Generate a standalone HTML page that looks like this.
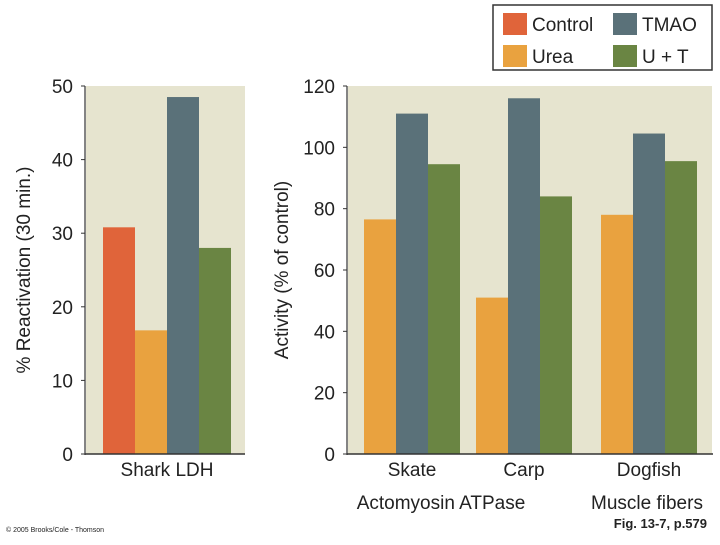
<!DOCTYPE html>
<html><head><meta charset="utf-8"><style>
body{margin:0;background:#fff;}
svg text{font-family:"Liberation Sans",sans-serif;fill:#222;}
</style></head><body>
<svg id="c" width="720" height="540" xmlns="http://www.w3.org/2000/svg"></svg>
<script>
const seriesNames=["Control","Urea","TMAO","U + T"];
const colors=["#e0643a","#e9a23f","#5a7179","#6a8543"];
const leftValues=[30.8,16.8,48.5,28];
const leftTicks=[0,10,20,30,40,50];
const rightCats=["Skate","Carp","Dogfish"];
const rightUrea=[76.5,51,78];
const rightTmao=[111,116,104.5];
const rightUT=[94.5,84,95.5];
const rightTicks=[0,20,40,60,80,100,120];
const NS="http://www.w3.org/2000/svg";
const svg=document.getElementById('c');
function el(t,a,txt){const e=document.createElementNS(NS,t);for(const k in a)e.setAttribute(k,a[k]);if(txt!=null)e.textContent=txt;svg.appendChild(e);return e;}
const y0=454,yTop=86;
function yL(v){return y0-(v/50)*(y0-yTop);}
function yR(v){return y0-(v/120)*(y0-yTop);}
// left panel
let r=el('rect',{x:86,y:yTop,width:159,height:y0-yTop,fill:"#e6e4cf"});


leftValues.forEach((v,i)=>{const b=el('rect',{x:103+i*32,y:yL(v),width:32,height:y0-yL(v),fill:colors[i]});

});
el('line',{x1:85,y1:yTop,x2:85,y2:y0+1,stroke:"#333","stroke-width":1.2});
el('line',{x1:85,y1:y0,x2:245,y2:y0,stroke:"#333","stroke-width":1.5});
leftTicks.forEach(t=>{el('line',{x1:81,y1:yL(t),x2:85,y2:yL(t),stroke:"#333"});
const tx=el('text',{x:73,y:yL(t)+7,"font-size":19,"text-anchor":"end"},t);

});
let lt=el('text',{x:30,y:270,"font-size":19,"text-anchor":"middle",transform:"rotate(-90 30 270)"},"% Reactivation (30 min.)");


let sl=el('text',{x:167,y:476,"font-size":19,"text-anchor":"middle"},"Shark LDH");


// right panel
r=el('rect',{x:348,y:yTop,width:364,height:y0-yTop,fill:"#e6e4cf"});


const groupX=[364,476,601];
[rightUrea,rightTmao,rightUT].forEach((arr,s)=>{arr.forEach((v,i)=>{
const b=el('rect',{x:groupX[i]+s*32,y:yR(v),width:32,height:y0-yR(v),fill:colors[s+1]});

});});
el('line',{x1:347,y1:yTop,x2:347,y2:y0+1,stroke:"#333","stroke-width":1.2});
el('line',{x1:347,y1:y0,x2:713,y2:y0,stroke:"#333","stroke-width":1.5});
rightTicks.forEach(t=>{el('line',{x1:343,y1:yR(t),x2:347,y2:yR(t),stroke:"#333"});
const tx=el('text',{x:335,y:yR(t)+7,"font-size":19,"text-anchor":"end"},t);

});
let rt=el('text',{x:288,y:270,"font-size":19,"text-anchor":"middle",transform:"rotate(-90 288 270)"},"Activity (% of control)");


rightCats.forEach((c,i)=>{const tx=el('text',{x:groupX[i]+48,y:476,"font-size":19,"text-anchor":"middle"},c);

});
let g1=el('text',{x:441,y:509,"font-size":19,"text-anchor":"middle"},"Actomyosin ATPase");


let g2=el('text',{x:647,y:509,"font-size":19,"text-anchor":"middle"},"Muscle fibers");


// legend
let lg=el('rect',{x:493,y:5,width:219,height:65,fill:"#fff",stroke:"#333","stroke-width":1.5});


const lpos=[[503,13],[503,45],[613,13],[613,45]];
seriesNames.forEach((n,i)=>{const p=lpos[i];
const sw=el('rect',{x:p[0],y:p[1],width:24,height:22,fill:colors[i]});


const tx=el('text',{x:p[0]+29,y:p[1]+18,"font-size":19},n);

});
let f=el('text',{x:707,y:528,"font-size":13,"font-weight":"bold","text-anchor":"end"},"Fig. 13-7, p.579");


let cp=el('text',{x:6,y:532,"font-size":7},"© 2005 Brooks/Cole - Thomson");


</script>
</body></html>
